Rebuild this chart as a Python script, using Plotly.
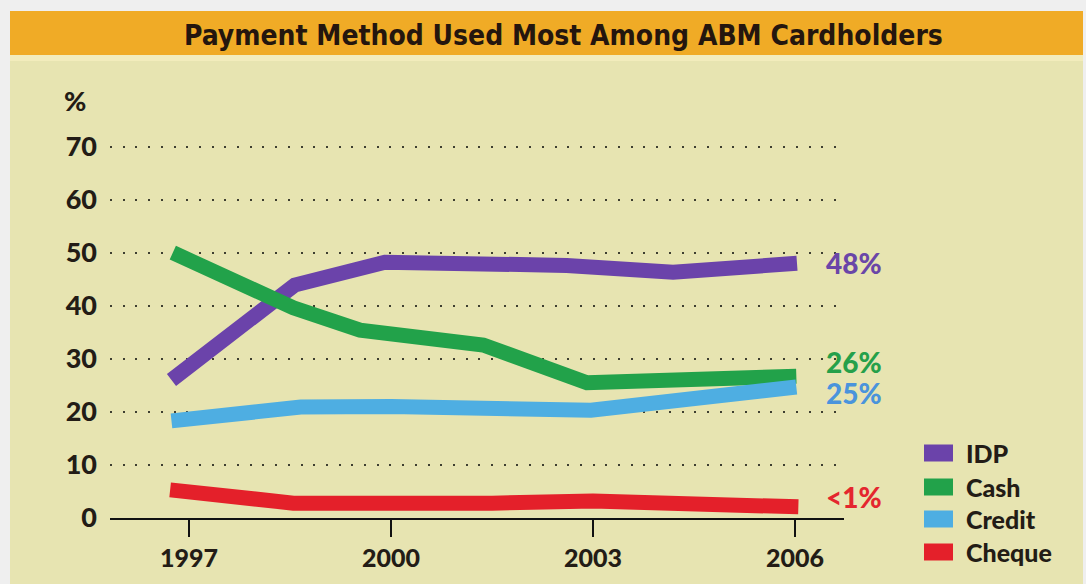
import plotly.graph_objects as go

# ---- data ----
idp_x = [1996.74, 1998.57, 1999.91, 2002.61, 2004.19, 2006.03]
idp_y = [26.0, 43.9, 48.2, 47.6, 46.3, 48.0]

cash_x = [1996.76, 1998.55, 1999.54, 2001.37, 2002.91, 2006.02]
cash_y = [50.0, 39.6, 35.4, 32.6, 25.5, 26.7]

credit_x = [1996.74, 1998.66, 2000.0, 2002.97, 2006.02]
credit_y = [18.3, 20.9, 21.0, 20.3, 24.7]

cheque_x = [1996.72, 1998.55, 2001.5, 2003.0, 2006.05]
cheque_y = [5.3, 2.8, 2.8, 3.2, 2.1]

series_names = ["IDP", "Cash", "Credit", "Cheque"]
series_colors = ["#6b43aa", "#22a24a", "#4eaee2", "#e4202a"]
label_colors = ["#6a46a8", "#25a04a", "#4a94dc", "#e4262e"]
end_labels = ["48%", "26%", "25%", "<1%"]
end_label_y = [48.0, 29.4, 23.6, 4.0]

x_ticks = [1997, 2000, 2003, 2006]
y_ticks = [0, 10, 20, 30, 40, 50, 60, 70]

title_text = "Payment Method Used Most Among ABM Cardholders"

# ---- geometry helpers (pixel -> paper) ----
W, H = 1086, 584
L, R, T, B = 110, 242, 120, 66
PW, PH = W - L - R, H - T - B


def px(x):
    return (x - L) / PW


def py(y):
    return (H - B - y) / PH


FONT = "Lato, Open Sans, DejaVu Sans, sans-serif"
INK = "#231c16"

fig = go.Figure()
xs = [idp_x, cash_x, credit_x, cheque_x]
ys = [idp_y, cash_y, credit_y, cheque_y]
for name, x, y, c in zip(series_names, xs, ys, series_colors):
    fig.add_trace(go.Scatter(x=x, y=y, mode="lines", name=name,
                             line=dict(color=c, width=15),
                             showlegend=False, hoverinfo="skip"))

shapes = [
    # panel background
    dict(type="rect", xref="paper", yref="paper", x0=px(10), x1=px(1083),
         y0=py(584), y1=py(55), fillcolor="#e7e4b1", line_width=0, layer="below"),
    dict(type="rect", xref="paper", yref="paper", x0=px(10), x1=px(1083),
         y0=py(61), y1=py(55), fillcolor="#f2ecbc", line_width=0, layer="below"),
    # title bar
    dict(type="rect", xref="paper", yref="paper", x0=px(10), x1=px(1083),
         y0=py(55), y1=py(11), fillcolor="#f0ab26", line_width=0, layer="below"),
]

annotations = [
    dict(text=title_text, xref="paper", yref="paper", x=px(563), y=py(35),
         xanchor="center", yanchor="middle", showarrow=False,
         font=dict(family="DejaVu Sans Condensed, Lato, sans-serif", size=28,
                   color="#24160e", weight="bold")),
    dict(text="%", xref="paper", yref="paper", x=px(62), y=py(100),
         xanchor="left", yanchor="middle", showarrow=False,
         font=dict(family=FONT, size=27, color=INK, weight=900)),
]

for t, yv, c in zip(end_labels, end_label_y, label_colors):
    annotations.append(dict(text=t, x=2006.43, y=yv, xanchor="left", yanchor="middle",
                            showarrow=False,
                            font=dict(family=FONT, size=28, color=c, weight=900)))

# custom legend
leg_rows = [453, 487, 519, 552]
for name, c, yy in zip(series_names, series_colors, leg_rows):
    shapes.append(dict(type="rect", xref="paper", yref="paper",
                       x0=px(924), x1=px(953), y0=py(yy + 8.5), y1=py(yy - 8.5),
                       fillcolor=c, line_width=0))
    annotations.append(dict(text=name, xref="paper", yref="paper", x=px(964), y=py(yy),
                            xanchor="left", yanchor="middle", showarrow=False,
                            font=dict(family=FONT, size=25, color=INK, weight=900)))

fig.update_layout(
    width=W, height=H,
    margin=dict(l=L, r=R, t=T, b=B, pad=0),
    paper_bgcolor="#efefef",
    plot_bgcolor="rgba(0,0,0,0)",
    shapes=shapes,
    annotations=annotations,
    showlegend=False,
    xaxis=dict(range=[1995.827, 2006.728], tickvals=x_ticks,
               ticktext=[str(v) for v in x_ticks],
               showgrid=False, zeroline=False,
               showline=True, linecolor="#111111", linewidth=2,
               ticks="outside", ticklen=17, tickwidth=2, tickcolor="#111111",
               tickfont=dict(family=FONT, size=25, color=INK, weight=900),
               fixedrange=True),
    yaxis=dict(range=[0, 75], tickvals=y_ticks,
               ticktext=[str(v) for v in y_ticks],
               showgrid=True, gridcolor="#3e3e30", gridwidth=2,
               griddash="2px,10.7px",
               zeroline=False, showline=False, ticks="",
               ticklabelstandoff=12,
               tickfont=dict(family=FONT, size=27, color=INK, weight=900),
               fixedrange=True),
)

fig.write_html("out.html")
